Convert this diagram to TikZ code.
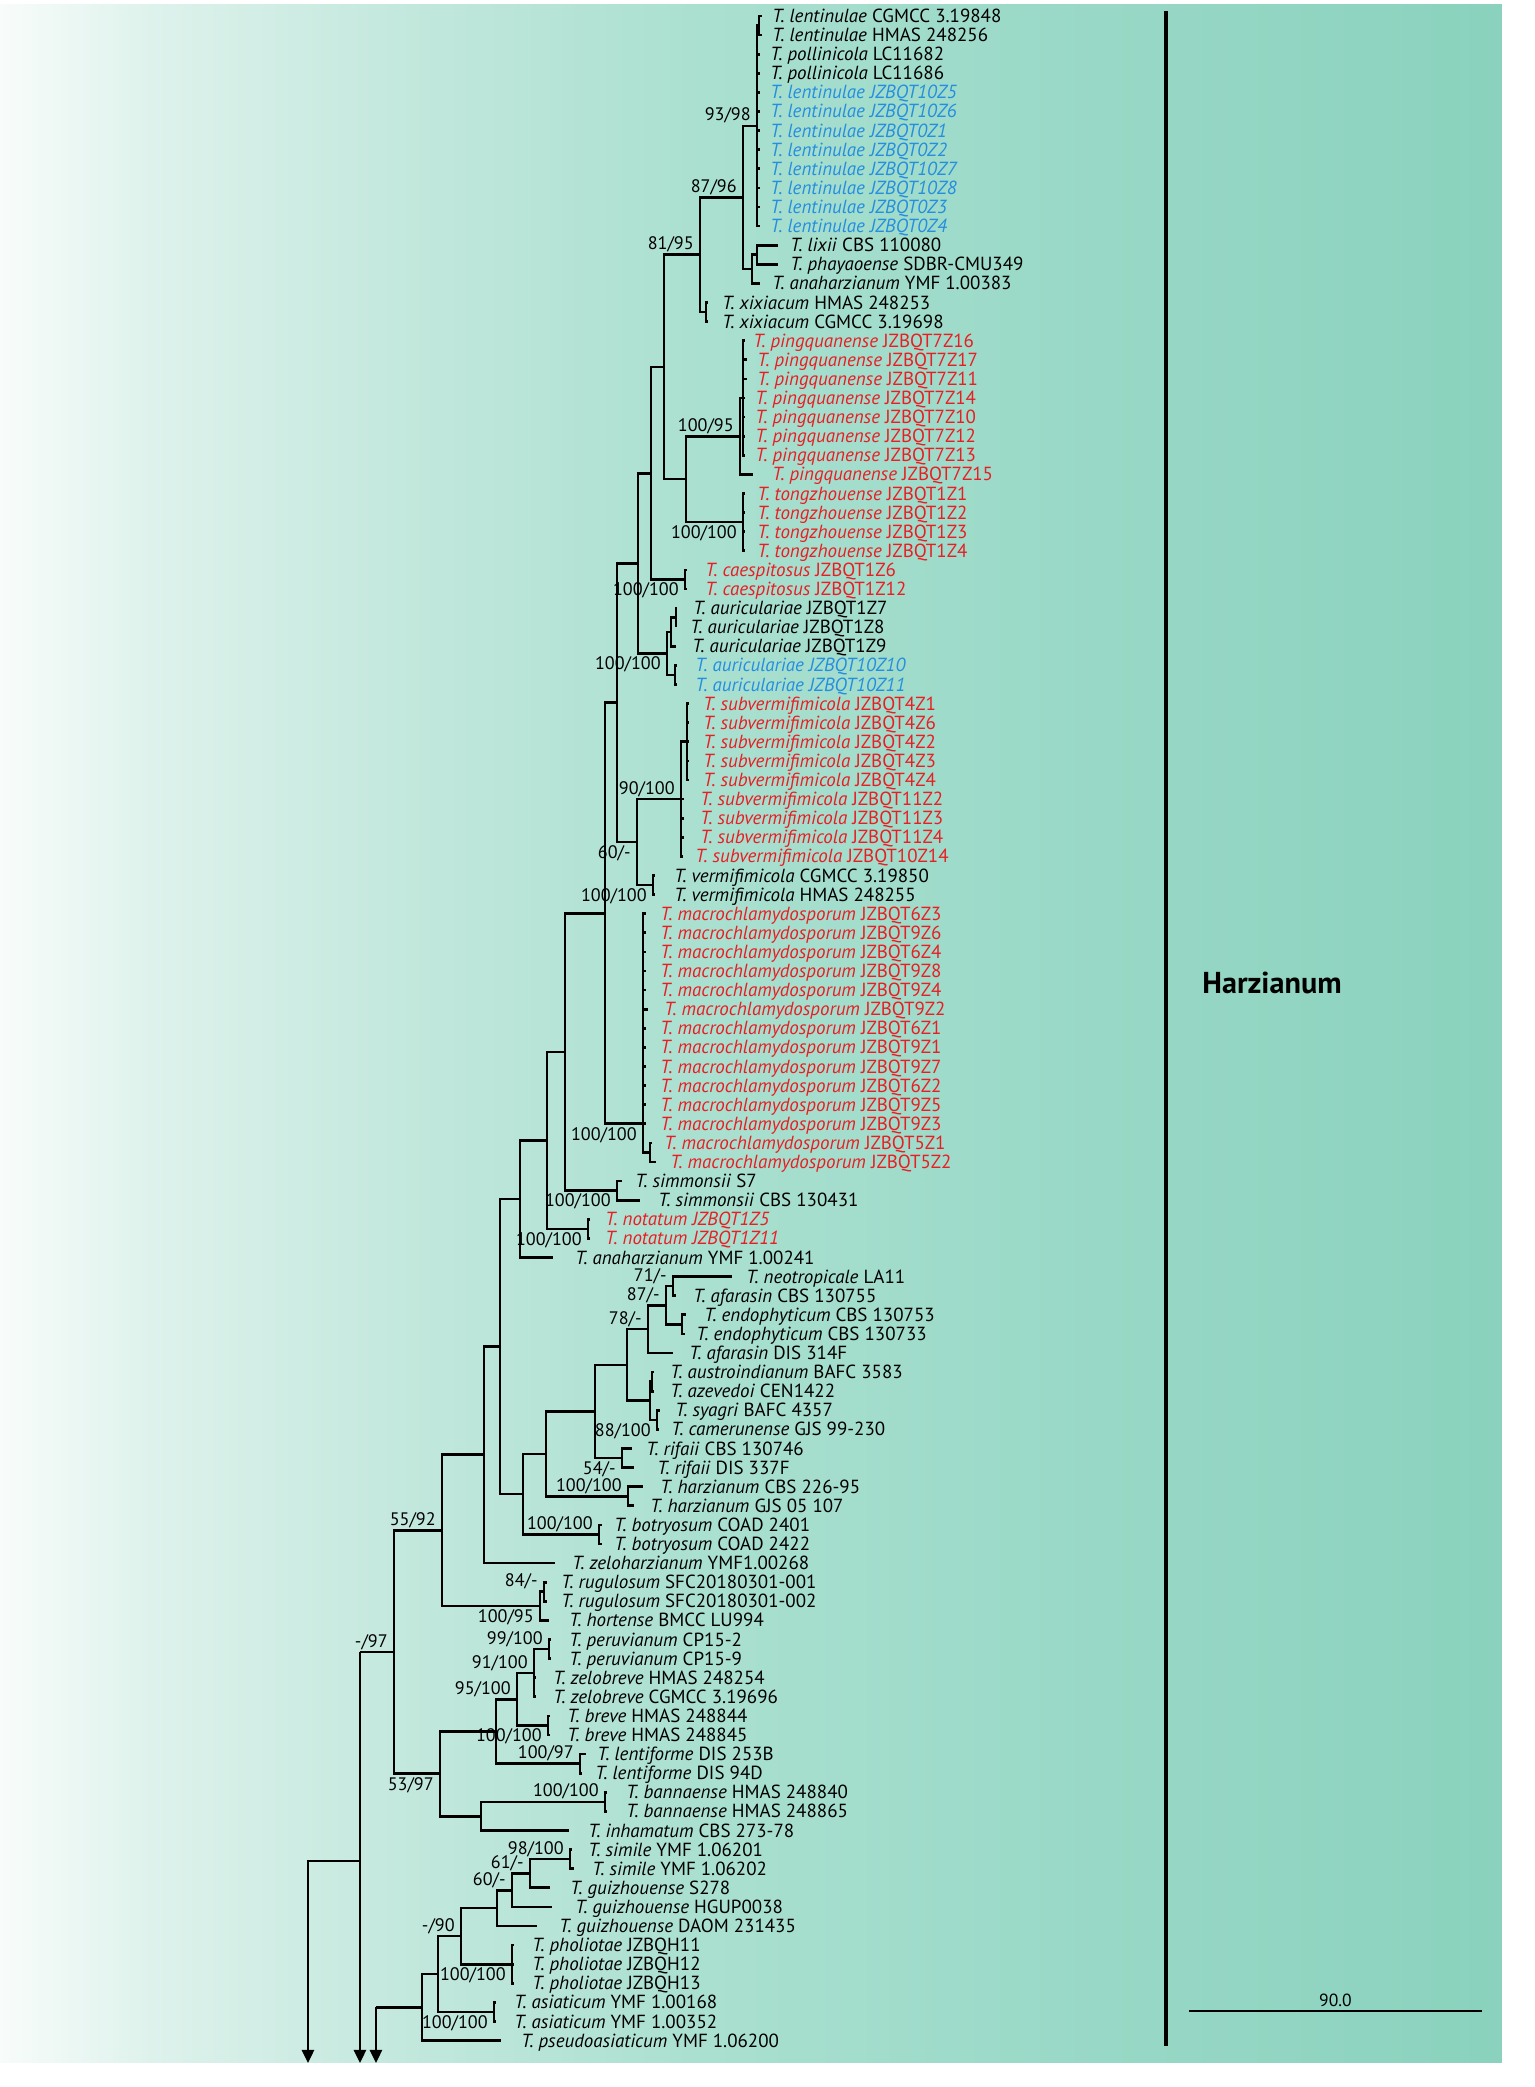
\documentclass[tikz,border=0pt]{standalone}
\usepackage{fontspec}
\setmainfont{PT Sans}
\usetikzlibrary{arrows.meta}

\definecolor{tred}{RGB}{232,30,36}
\definecolor{tblue}{RGB}{38,142,222}
\definecolor{bgA}{RGB}{248,252,251}
\definecolor{bgB}{RGB}{222,242,236}
\definecolor{bgC}{RGB}{195,232,221}
\definecolor{bgD}{RGB}{170,224,208}
\definecolor{bgE}{RGB}{152,216,198}
\definecolor{bgF}{RGB}{138,210,189}
\pgfdeclarehorizontalshading{bgteal}{100bp}{color(0bp)=(bgA); color(25bp)=(bgA); color(30bp)=(bgB); color(38.3bp)=(bgC); color(48.3bp)=(bgD); color(61.6bp)=(bgE); color(75bp)=(bgF); color(100bp)=(bgF)}

\newcommand{\species}[1]{\textit{T.~#1}}

\tikzset{
  br/.style={line width=1.5pt},
  outarrow/.style={-{Triangle[width=2.4mm,length=2.6mm]}},
  leaf/.style={anchor=base west,inner sep=0pt,yshift=-1.3mm,font=\fontsize{10.8}{11}\selectfont},
  bs/.style={inner sep=0pt,font=\fontsize{10.3}{11}\selectfont},
  bsup/.style={bs,anchor=south east,xshift=-1.2mm,yshift=0.4mm},
  bsdown/.style={bs,anchor=north east,xshift=-1.2mm,yshift=-0.6mm}
}

\begin{document}
\begin{tikzpicture}[x=0.2mm,y=-3.82mm]
\useasboundingbox (0,0.1623) rectangle (1535,109.43);
\fill[white] (0,0.1623) rectangle (1535,109.43);
\shade[shading=bgteal] (0,0.372) rectangle (1502,108.17);

% leaves: row / tip x / text x / colour / label
\foreach \r/\tx/\lx/\c/\txt in {
 1/762/772/black/{\species{lentinulae} CGMCC 3.19848},
 2/762/772/black/{\species{lentinulae} HMAS 248256},
 3/760/770/black/{\species{pollinicola} LC11682},
 4/760/770/black/{\species{pollinicola} LC11686},
 5/760/770/tblue/{\textit{T. lentinulae JZBQT10Z5}},
 6/760/770/tblue/{\textit{T. lentinulae JZBQT10Z6}},
 7/760/770/tblue/{\textit{T. lentinulae JZBQT0Z1}},
 8/760/770/tblue/{\textit{T. lentinulae JZBQT0Z2}},
 9/760/770/tblue/{\textit{T. lentinulae JZBQT10Z7}},
 10/760/770/tblue/{\textit{T. lentinulae JZBQT10Z8}},
 11/760/770/tblue/{\textit{T. lentinulae JZBQT0Z3}},
 12/760/770/tblue/{\textit{T. lentinulae JZBQT0Z4}},
 13/778/790/black/{\species{lixii} CBS 110080},
 14/778/790/black/{\species{phayaoense} SDBR-CMU349},
 15/760/772/black/{\species{anaharzianum} YMF 1.00383},
 16/708/722/black/{\species{xixiacum} HMAS 248253},
 17/708/722/black/{\species{xixiacum} CGMCC 3.19698},
 18/745/753/tred/{\species{pingquanense} JZBQT7Z16},
 19/747/757/tred/{\species{pingquanense} JZBQT7Z17},
 20/747/757/tred/{\species{pingquanense} JZBQT7Z11},
 21/745/755/tred/{\species{pingquanense} JZBQT7Z14},
 22/745/755/tred/{\species{pingquanense} JZBQT7Z10},
 23/745/755/tred/{\species{pingquanense} JZBQT7Z12},
 24/745/755/tred/{\species{pingquanense} JZBQT7Z13},
 25/753/772/tred/{\species{pingquanense} JZBQT7Z15},
 26/745/757/tred/{\species{tongzhouense} JZBQT1Z1},
 27/745/757/tred/{\species{tongzhouense} JZBQT1Z2},
 28/745/757/tred/{\species{tongzhouense} JZBQT1Z3},
 29/745/757/tred/{\species{tongzhouense} JZBQT1Z4},
 30/687/705/tred/{\species{caespitosus} JZBQT1Z6},
 31/687/705/tred/{\species{caespitosus} JZBQT1Z12},
 32/677/693/black/{\species{auriculariae} JZBQT1Z7},
 33/676/690/black/{\species{auriculariae} JZBQT1Z8},
 34/676/692/black/{\species{auriculariae} JZBQT1Z9},
 35/677/695/tblue/{\textit{T. auriculariae JZBQT10Z10}},
 36/677/695/tblue/{\textit{T. auriculariae JZBQT10Z11}},
 37/689/703/tred/{\species{subvermifimicola} JZBQT4Z1},
 38/689/703/tred/{\species{subvermifimicola} JZBQT4Z6},
 39/689/703/tred/{\species{subvermifimicola} JZBQT4Z2},
 40/689/703/tred/{\species{subvermifimicola} JZBQT4Z3},
 41/689/703/tred/{\species{subvermifimicola} JZBQT4Z4},
 42/684/700/tred/{\species{subvermifimicola} JZBQT11Z2},
 43/684/700/tred/{\species{subvermifimicola} JZBQT11Z3},
 44/684/700/tred/{\species{subvermifimicola} JZBQT11Z4},
 45/683/695/tred/{\species{subvermifimicola} JZBQT10Z14},
 46/655/674/black/{\species{vermifimicola} CGMCC 3.19850},
 47/655/674/black/{\species{vermifimicola} HMAS 248255},
 48/646/660/tred/{\species{macrochlamydosporum} JZBQT6Z3},
 49/646/660/tred/{\species{macrochlamydosporum} JZBQT9Z6},
 50/646/660/tred/{\species{macrochlamydosporum} JZBQT6Z4},
 51/646/660/tred/{\species{macrochlamydosporum} JZBQT9Z8},
 52/646/660/tred/{\species{macrochlamydosporum} JZBQT9Z4},
 53/648/664/tred/{\species{macrochlamydosporum} JZBQT9Z2},
 54/646/660/tred/{\species{macrochlamydosporum} JZBQT6Z1},
 55/646/660/tred/{\species{macrochlamydosporum} JZBQT9Z1},
 56/646/660/tred/{\species{macrochlamydosporum} JZBQT9Z7},
 57/646/660/tred/{\species{macrochlamydosporum} JZBQT6Z2},
 58/646/660/tred/{\species{macrochlamydosporum} JZBQT9Z5},
 59/646/660/tred/{\species{macrochlamydosporum} JZBQT9Z3},
 60/652/664/tred/{\species{macrochlamydosporum} JZBQT5Z1},
 61/656/670/tred/{\species{macrochlamydosporum} JZBQT5Z2},
 62/622/635/black/{\species{simmonsii} S7},
 63/640/658/black/{\species{simmonsii} CBS 130431},
 64/590/605/tred/{\textit{T. notatum JZBQT1Z5}},
 65/590/605/tred/{\textit{T. notatum JZBQT1Z11}},
 66/553/575/black/{\species{anaharzianum} YMF 1.00241},
 67/732/746/black/{\species{neotropicale} LA11},
 68/676/693/black/{\species{afarasin} CBS 130755},
 69/686/704/black/{\species{endophyticum} CBS 130753},
 70/685/696/black/{\species{endophyticum} CBS 130733},
 71/673/689/black/{\species{afarasin} DIS 314F},
 72/654/670/black/{\species{austroindianum} BAFC 3583},
 73/654/670/black/{\species{azevedoi} CEN1422},
 74/660/675/black/{\species{syagri} BAFC 4357},
 75/659/671/black/{\species{camerunense} GJS 99-230},
 76/632/646/black/{\species{rifaii} CBS 130746},
 77/634/657/black/{\species{rifaii} DIS 337F},
 78/643/660/black/{\species{harzianum} CBS 226-95},
 79/634/650/black/{\species{harzianum} GJS 05 107},
 80/602/614/black/{\species{botryosum} COAD 2401},
 81/602/614/black/{\species{botryosum} COAD 2422},
 82/555/572/black/{\species{zeloharzianum} YMF1.00268},
 83/547/561/black/{\species{rugulosum} SFC20180301-001},
 84/547/561/black/{\species{rugulosum} SFC20180301-002},
 85/549/569/black/{\species{hortense} BMCC LU994},
 86/551/569/black/{\species{peruvianum} CP15-2},
 87/551/569/black/{\species{peruvianum} CP15-9},
 88/536/553/black/{\species{zelobreve} HMAS 248254},
 89/536/553/black/{\species{zelobreve} CGMCC 3.19696},
 90/550/567/black/{\species{breve} HMAS 248844},
 91/550/567/black/{\species{breve} HMAS 248845},
 92/586/597/black/{\species{lentiforme} DIS 253B},
 93/582/595/black/{\species{lentiforme} DIS 94D},
 94/607/626/black/{\species{bannaense} HMAS 248840},
 95/607/626/black/{\species{bannaense} HMAS 248865},
 96/569/588/black/{\species{inhamatum} CBS 273-78},
 97/572/588/black/{\species{simile} YMF 1.06201},
 98/574/592/black/{\species{simile} YMF 1.06202},
 99/550/570/black/{\species{guizhouense} S278},
 100/552/575/black/{\species{guizhouense} HGUP0038},
 101/537/559/black/{\species{guizhouense} DAOM 231435},
 102/514/532/black/{\species{pholiotae} JZBQH11},
 103/514/532/black/{\species{pholiotae} JZBQH12},
 104/514/532/black/{\species{pholiotae} JZBQH13},
 105/496/514/black/{\species{asiaticum} YMF 1.00168},
 106/496/514/black/{\species{asiaticum} YMF 1.00352},
 107/501/521/black/{\species{pseudoasiaticum} YMF 1.06200}}{
  \coordinate (t\r) at (\tx,\r);
  \node[leaf,text=\c] (l\r) at (\lx,\r) {\txt};
}

% internal nodes (x, row)
\coordinate (lentA) at (759,1.5);
\coordinate (lent) at (757,6.75);
\coordinate (lixphay) at (757,13.5);
\coordinate (lixgrp) at (752,14.25);
\coordinate (n8796) at (743,10.5);
\coordinate (xix) at (706,16.5);
\coordinate (n8195) at (700,13.5);
\coordinate (pingA) at (743,21);
\coordinate (ping) at (740,23);
\coordinate (tong) at (743,27.5);
\coordinate (pingtong) at (686,25.25);
\coordinate (nA) at (664,19.375);
\coordinate (caes) at (685,30.5);
\coordinate (nB) at (651,24.94);
\coordinate (aurA) at (676,32.5);
\coordinate (aurB) at (671,33.25);
\coordinate (aurC) at (675,35.5);
\coordinate (aur) at (667,34.375);
\coordinate (nC) at (638,29.66);
\coordinate (subvA) at (687,39);
\coordinate (subv) at (681,42);
\coordinate (verm) at (653,46.5);
\coordinate (n60) at (637,44.25);
\coordinate (nD) at (617,36.95);
\coordinate (macA) at (650,60.5);
\coordinate (macro) at (643,59);
\coordinate (nF) at (605,47.98);
\coordinate (simm) at (617,62.5);
\coordinate (nG) at (565,55.24);
\coordinate (nota) at (588,64.5);
\coordinate (nH) at (547,59.87);
\coordinate (nI) at (520,62.93);
\coordinate (neo) at (673,67.5);
\coordinate (endo) at (682,69.5);
\coordinate (n87b) at (666,68.5);
\coordinate (n78) at (648,69.75);
\coordinate (austro) at (652,72.5);
\coordinate (syag) at (657,74.5);
\coordinate (austroGrp) at (650,73.5);
\coordinate (nJ) at (627,71.63);
\coordinate (rif) at (622,76.5);
\coordinate (nK) at (595,74.06);
\coordinate (harz) at (628,78.5);
\coordinate (nL) at (546,76.28);
\coordinate (botr) at (599,80.5);
\coordinate (nM) at (523,78.39);
\coordinate (nN) at (500,70.66);
\coordinate (nO) at (484,76.33);
\coordinate (rug) at (544,83.5);
\coordinate (rugGrp) at (540,84.25);
\coordinate (n5592) at (442,80.29);
\coordinate (peru) at (549,86.5);
\coordinate (zelob) at (534,87.75);
\coordinate (brev) at (548,90.5);
\coordinate (n95) at (517,89.13);
\coordinate (lentif) at (580,92.5);
\coordinate (nP) at (496,90.81);
\coordinate (bann) at (605,94.5);
\coordinate (bannGrp) at (481,95.25);
\coordinate (n5397) at (440,93.03);
\coordinate (n97) at (394,86.66);
\coordinate (sim) at (570,97.5);
\coordinate (n61) at (530,98.25);
\coordinate (n60b) at (512,99.13);
\coordinate (guiz) at (497,100.06);
\coordinate (phol) at (512,103);
\coordinate (n90) at (461,101.53);
\coordinate (asia) at (494,105.5);
\coordinate (nQ) at (438,103.52);
\coordinate (nR) at (422,105.26);
\coordinate (rA) at (360,86.66);
\coordinate (rB) at (360,97.6);
\coordinate (rC) at (376,105.26);
\coordinate (aA) at (308,108.17);
\coordinate (aB) at (360,108.17);
\coordinate (aC) at (376,108.17);

% branches
\foreach \r in {1,2} \draw[br] (lentA) |- (t\r);
\draw[br] (lent) |- (lentA);
\foreach \r in {3,...,12} \draw[br] (lent) |- (t\r);
\foreach \r in {13,14} \draw[br] (lixphay) |- (t\r);
\draw[br] (lixgrp) |- (lixphay);
\draw[br] (lixgrp) |- (t15);
\draw[br] (n8796) |- (lent);
\draw[br] (n8796) |- (lixgrp);
\foreach \r in {16,17} \draw[br] (xix) |- (t\r);
\draw[br] (n8195) |- (n8796);
\draw[br] (n8195) |- (xix);
\foreach \r in {18,...,24} \draw[br] (pingA) |- (t\r);
\draw[br] (ping) |- (pingA);
\draw[br] (ping) |- (t25);
\foreach \r in {26,...,29} \draw[br] (tong) |- (t\r);
\draw[br] (pingtong) |- (ping);
\draw[br] (pingtong) |- (tong);
\draw[br] (nA) |- (n8195);
\draw[br] (nA) |- (pingtong);
\foreach \r in {30,31} \draw[br] (caes) |- (t\r);
\draw[br] (nB) |- (nA);
\draw[br] (nB) |- (caes);
\foreach \r in {32,33} \draw[br] (aurA) |- (t\r);
\draw[br] (aurB) |- (aurA);
\draw[br] (aurB) |- (t34);
\foreach \r in {35,36} \draw[br] (aurC) |- (t\r);
\draw[br] (aur) |- (aurB);
\draw[br] (aur) |- (aurC);
\draw[br] (nC) |- (nB);
\draw[br] (nC) |- (aur);
\foreach \r in {37,...,41} \draw[br] (subvA) |- (t\r);
\draw[br] (subv) |- (subvA);
\foreach \r in {42,...,45} \draw[br] (subv) |- (t\r);
\foreach \r in {46,47} \draw[br] (verm) |- (t\r);
\draw[br] (n60) |- (subv);
\draw[br] (n60) |- (verm);
\draw[br] (nD) |- (nC);
\draw[br] (nD) |- (n60);
\foreach \r in {48,...,59} \draw[br] (macro) |- (t\r);
\foreach \r in {60,61} \draw[br] (macA) |- (t\r);
\draw[br] (macro) |- (macA);
\draw[br] (nF) |- (nD);
\draw[br] (nF) |- (macro);
\foreach \r in {62,63} \draw[br] (simm) |- (t\r);
\draw[br] (nG) |- (nF);
\draw[br] (nG) |- (simm);
\foreach \r in {64,65} \draw[br] (nota) |- (t\r);
\draw[br] (nH) |- (nG);
\draw[br] (nH) |- (nota);
\draw[br] (nI) |- (nH);
\draw[br] (nI) |- (t66);
\foreach \r in {67,68} \draw[br] (neo) |- (t\r);
\foreach \r in {69,70} \draw[br] (endo) |- (t\r);
\draw[br] (n87b) |- (neo);
\draw[br] (n87b) |- (endo);
\draw[br] (n78) |- (n87b);
\draw[br] (n78) |- (t71);
\foreach \r in {72,73} \draw[br] (austro) |- (t\r);
\foreach \r in {74,75} \draw[br] (syag) |- (t\r);
\draw[br] (austroGrp) |- (austro);
\draw[br] (austroGrp) |- (syag);
\draw[br] (nJ) |- (n78);
\draw[br] (nJ) |- (austroGrp);
\foreach \r in {76,77} \draw[br] (rif) |- (t\r);
\draw[br] (nK) |- (nJ);
\draw[br] (nK) |- (rif);
\foreach \r in {78,79} \draw[br] (harz) |- (t\r);
\draw[br] (nL) |- (nK);
\draw[br] (nL) |- (harz);
\foreach \r in {80,81} \draw[br] (botr) |- (t\r);
\draw[br] (nM) |- (nL);
\draw[br] (nM) |- (botr);
\draw[br] (nN) |- (nI);
\draw[br] (nN) |- (nM);
\draw[br] (nO) |- (nN);
\draw[br] (nO) |- (t82);
\foreach \r in {83,84} \draw[br] (rug) |- (t\r);
\draw[br] (rugGrp) |- (rug);
\draw[br] (rugGrp) |- (t85);
\draw[br] (n5592) |- (nO);
\draw[br] (n5592) |- (rugGrp);
\foreach \r in {86,87} \draw[br] (peru) |- (t\r);
\draw[br] (zelob) |- (peru);
\foreach \r in {88,89} \draw[br] (zelob) |- (t\r);
\foreach \r in {90,91} \draw[br] (brev) |- (t\r);
\draw[br] (n95) |- (zelob);
\draw[br] (n95) |- (brev);
\foreach \r in {92,93} \draw[br] (lentif) |- (t\r);
\draw[br] (nP) |- (n95);
\draw[br] (nP) |- (lentif);
\foreach \r in {94,95} \draw[br] (bann) |- (t\r);
\draw[br] (bannGrp) |- (bann);
\draw[br] (bannGrp) |- (t96);
\draw[br] (n5397) |- (nP);
\draw[br] (n5397) |- (bannGrp);
\draw[br] (n97) |- (n5592);
\draw[br] (n97) |- (n5397);
\foreach \r in {97,98} \draw[br] (sim) |- (t\r);
\draw[br] (n61) |- (sim);
\draw[br] (n61) |- (t99);
\draw[br] (n60b) |- (n61);
\draw[br] (n60b) |- (t100);
\draw[br] (guiz) |- (n60b);
\draw[br] (guiz) |- (t101);
\foreach \r in {102,103,104} \draw[br] (phol) |- (t\r);
\draw[br] (n90) |- (guiz);
\draw[br] (n90) |- (phol);
\foreach \r in {105,106} \draw[br] (asia) |- (t\r);
\draw[br] (nQ) |- (n90);
\draw[br] (nQ) |- (asia);
\draw[br] (nR) |- (nQ);
\draw[br] (nR) |- (t107);
\draw[br] (rA) -- (n97);
\draw[br] (rC) -- (nR);
\draw[br,outarrow] (rA) -- (aB);
\draw[br,outarrow] (rB) -| (aA);
\draw[br,outarrow] (rC) -- (aC);

% support values
\node[bsup] (s1) at (lent) {93/98};
\node[bsup] (s2) at (n8796) {87/96};
\node[bsup] (s3) at (n8195) {81/95};
\node[bsup] (s4) at (ping) {100/95};
\node[bsdown] (s5) at (tong) {100/100};
\node[bsdown] (s6) at (caes) {100/100};
\node[bsdown] (s7) at (aur) {100/100};
\node[bsup] (s8) at (subv) {90/100};
\node[bsdown] (s9) at (n60) {60/-};
\node[bsdown] (s10) at (verm) {100/100};
\node[bsdown] (s11) at (macro) {100/100};
\node[bsdown] (s12) at (simm) {100/100};
\node[bsdown] (s13) at (nota) {100/100};
\node[bsup] (s14) at (neo) {71/-};
\node[bsup] (s15) at (n87b) {87/-};
\node[bsup] (s16) at (n78) {78/-};
\node[bsdown] (s17) at (syag) {88/100};
\node[bsdown] (s18) at (rif) {54/-};
\node[bsup] (s19) at (harz) {100/100};
\node[bsup] (s20) at (botr) {100/100};
\node[bsup] (s21) at (n5592) {55/92};
\node[bsup] (s22) at (rug) {84/-};
\node[bsdown] (s23) at (rugGrp) {100/95};
\node[bsup] (s24) at (n97) {-/97};
\node[bsup] (s25) at (peru) {99/100};
\node[bsup] (s26) at (zelob) {91/100};
\node[bsup] (s27) at (n95) {95/100};
\node[bsdown] (s28) at (brev) {100/100};
\node[bsup] (s29) at (lentif) {100/97};
\node[bsdown] (s30) at (n5397) {53/97};
\node[bsup] (s31) at (bann) {100/100};
\node[bsup] (s32) at (sim) {98/100};
\node[bsup] (s33) at (n61) {61/-};
\node[bsup] (s34) at (n60b) {60/-};
\node[bsup] (s35) at (n90) {-/90};
\node[bsdown] (s36) at (phol) {100/100};
\node[bsdown] (s37) at (asia) {100/100};

% clade bar and scale
\coordinate (barT) at (1166,0.74);
\coordinate (barB) at (1166,107.28);
\draw[line width=1.9pt] (barT) -- (barB);
\node[anchor=west,inner sep=0pt,font=\fontsize{17.2}{19}\selectfont\bfseries] (clade) at (1202,51.6) {Harzianum};
\coordinate (scL) at (1189,105.45);
\coordinate (scR) at (1482,105.45);
\draw[line width=0.8pt] (scL) -- node[above=0.7mm,inner sep=0pt,font=\fontsize{10}{11}\selectfont] (scT) {90.0} (scR);
\end{tikzpicture}
\end{document}
